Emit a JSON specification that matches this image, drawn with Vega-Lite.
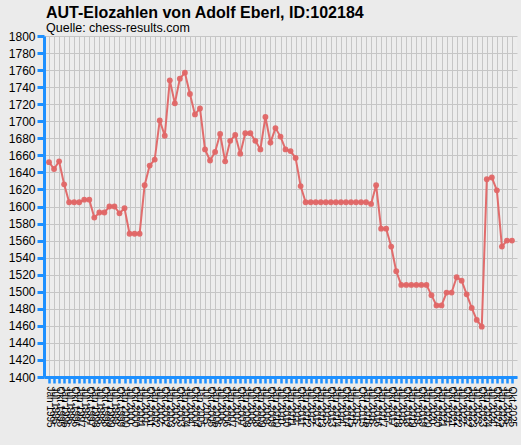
{
  "$schema": "https://vega.github.io/schema/vega-lite/v6.json",
  "description": "AUT-Elozahlen von Adolf Eberl",
  "width": 473,
  "height": 341,
  "autosize": {"type": "none"},
  "padding": {"left": 44, "top": 36, "right": 4, "bottom": 68},
  "background": "#ebebeb",
  "title": {
    "text": "AUT-Elozahlen von Adolf Eberl, ID:102184",
    "subtitle": "Quelle: chess-results.com",
    "anchor": "start",
    "frame": "group",
    "offset": -4,
    "dx": 2,
    "font": "Liberation Sans",
    "fontSize": 16,
    "fontWeight": "bold",
    "color": "#000000",
    "subtitleFont": "Liberation Sans",
    "subtitleFontSize": 12.5,
    "subtitleColor": "#000000",
    "subtitlePadding": 1
  },
  "data": {
    "values": [
      {"Liste": "Jän 1995", "Elo": 1652},
      {"Liste": "Jul 1995", "Elo": 1644},
      {"Liste": "Okt 1995", "Elo": 1653},
      {"Liste": "Jän 1996", "Elo": 1626},
      {"Liste": "Jul 1996", "Elo": 1605},
      {"Liste": "Okt 1996", "Elo": 1605},
      {"Liste": "Jän 1997", "Elo": 1605},
      {"Liste": "Jul 1997", "Elo": 1608},
      {"Liste": "Okt 1997", "Elo": 1608},
      {"Liste": "Jän 1998", "Elo": 1587},
      {"Liste": "Jul 1998", "Elo": 1593},
      {"Liste": "Okt 1998", "Elo": 1593},
      {"Liste": "Jän 1999", "Elo": 1600},
      {"Liste": "Jul 1999", "Elo": 1600},
      {"Liste": "Okt 1999", "Elo": 1592},
      {"Liste": "Jän 2000", "Elo": 1598},
      {"Liste": "Jul 2000", "Elo": 1568},
      {"Liste": "Okt 2000", "Elo": 1568},
      {"Liste": "Jän 2001", "Elo": 1568},
      {"Liste": "Jul 2001", "Elo": 1625},
      {"Liste": "Okt 2001", "Elo": 1648},
      {"Liste": "Jän 2002", "Elo": 1655},
      {"Liste": "Jul 2002", "Elo": 1701},
      {"Liste": "Okt 2002", "Elo": 1683},
      {"Liste": "Jän 2003", "Elo": 1748},
      {"Liste": "Jul 2003", "Elo": 1721},
      {"Liste": "Okt 2003", "Elo": 1750},
      {"Liste": "Jän 2004", "Elo": 1757},
      {"Liste": "Jul 2004", "Elo": 1732},
      {"Liste": "Okt 2004", "Elo": 1708},
      {"Liste": "Jän 2005", "Elo": 1715},
      {"Liste": "Jul 2005", "Elo": 1667},
      {"Liste": "Okt 2005", "Elo": 1654},
      {"Liste": "Jän 2006", "Elo": 1664},
      {"Liste": "Jul 2006", "Elo": 1685},
      {"Liste": "Okt 2006", "Elo": 1653},
      {"Liste": "Jän 2007", "Elo": 1677},
      {"Liste": "Jul 2007", "Elo": 1684},
      {"Liste": "Okt 2007", "Elo": 1662},
      {"Liste": "Jän 2008", "Elo": 1686},
      {"Liste": "Jul 2008", "Elo": 1686},
      {"Liste": "Okt 2008", "Elo": 1677},
      {"Liste": "Jän 2009", "Elo": 1667},
      {"Liste": "Jul 2009", "Elo": 1705},
      {"Liste": "Okt 2009", "Elo": 1675},
      {"Liste": "Jän 2010", "Elo": 1692},
      {"Liste": "Jul 2010", "Elo": 1682},
      {"Liste": "Okt 2010", "Elo": 1667},
      {"Liste": "Jän 2011", "Elo": 1665},
      {"Liste": "Jul 2011", "Elo": 1657},
      {"Liste": "Okt 2011", "Elo": 1624},
      {"Liste": "Jän 2012", "Elo": 1605},
      {"Liste": "Jul 2012", "Elo": 1605},
      {"Liste": "Okt 2012", "Elo": 1605},
      {"Liste": "Jän 2013", "Elo": 1605},
      {"Liste": "Jul 2013", "Elo": 1605},
      {"Liste": "Okt 2013", "Elo": 1605},
      {"Liste": "Jän 2014", "Elo": 1605},
      {"Liste": "Jul 2014", "Elo": 1605},
      {"Liste": "Okt 2014", "Elo": 1605},
      {"Liste": "Jän 2015", "Elo": 1605},
      {"Liste": "Jul 2015", "Elo": 1605},
      {"Liste": "Okt 2015", "Elo": 1605},
      {"Liste": "Jän 2016", "Elo": 1605},
      {"Liste": "Jul 2016", "Elo": 1603},
      {"Liste": "Okt 2016", "Elo": 1625},
      {"Liste": "Jän 2017", "Elo": 1574},
      {"Liste": "Jul 2017", "Elo": 1574},
      {"Liste": "Okt 2017", "Elo": 1553},
      {"Liste": "Jän 2018", "Elo": 1524},
      {"Liste": "Jul 2018", "Elo": 1508},
      {"Liste": "Okt 2018", "Elo": 1508},
      {"Liste": "Jän 2019", "Elo": 1508},
      {"Liste": "Jul 2019", "Elo": 1508},
      {"Liste": "Okt 2019", "Elo": 1508},
      {"Liste": "Jän 2020", "Elo": 1508},
      {"Liste": "Jul 2020", "Elo": 1496},
      {"Liste": "Okt 2020", "Elo": 1484},
      {"Liste": "Jän 2021", "Elo": 1484},
      {"Liste": "Jul 2021", "Elo": 1499},
      {"Liste": "Okt 2021", "Elo": 1499},
      {"Liste": "Jän 2022", "Elo": 1517},
      {"Liste": "Jul 2022", "Elo": 1513},
      {"Liste": "Okt 2022", "Elo": 1497},
      {"Liste": "Jän 2023", "Elo": 1481},
      {"Liste": "Jul 2023", "Elo": 1467},
      {"Liste": "Okt 2023", "Elo": 1459},
      {"Liste": "Jän 2024", "Elo": 1632},
      {"Liste": "Jul 2024", "Elo": 1634},
      {"Liste": "Okt 2024", "Elo": 1619},
      {"Liste": "Jän 2025", "Elo": 1553},
      {"Liste": "Jul 2025", "Elo": 1560},
      {"Liste": "Okt 2025", "Elo": 1560}
    ]
  },
  "encoding": {
    "x": {
      "field": "Liste",
      "type": "ordinal",
      "sort": null,
      "scale": {"type": "point", "padding": 1.3},
      "axis": {
        "title": null,
        "labelAngle": 90,
        "labelAlign": "left",
        "labelBaseline": "middle",
        "labelFont": "Liberation Sans",
        "labelFontSize": 10,
        "labelColor": "#000000",
        "labelOverlap": false,
        "labelPadding": 3,
        "domainColor": "#1e90ff",
        "domainWidth": 3,
        "tickColor": "#1e90ff",
        "tickWidth": 2.5,
        "tickSize": 6,
        "grid": true,
        "gridColor": "#c6c6c6",
        "gridWidth": 1
      }
    },
    "y": {
      "field": "Elo",
      "type": "quantitative",
      "scale": {"domain": [1400, 1800], "nice": false, "zero": false},
      "axis": {
        "title": null,
        "format": "d",
        "values": [1400, 1420, 1440, 1460, 1480, 1500, 1520, 1540, 1560, 1580, 1600, 1620, 1640, 1660, 1680, 1700, 1720, 1740, 1760, 1780, 1800],
        "labelFont": "Liberation Sans",
        "labelFontSize": 12,
        "labelColor": "#000000",
        "labelPadding": 2,
        "domainColor": "#1e90ff",
        "domainWidth": 3,
        "tickColor": "#1e90ff",
        "tickWidth": 3,
        "tickSize": 7,
        "grid": true,
        "gridColor": "#c6c6c6",
        "gridWidth": 1
      }
    }
  },
  "layer": [
    {
      "mark": {"type": "line", "color": "#e06666", "strokeWidth": 2, "opacity": 0.95}
    },
    {
      "mark": {"type": "point", "filled": true, "shape": "circle", "size": 34, "color": "#e06666", "opacity": 0.95}
    }
  ],
  "config": {
    "view": {"stroke": null, "fill": "#ededed"}
  }
}
